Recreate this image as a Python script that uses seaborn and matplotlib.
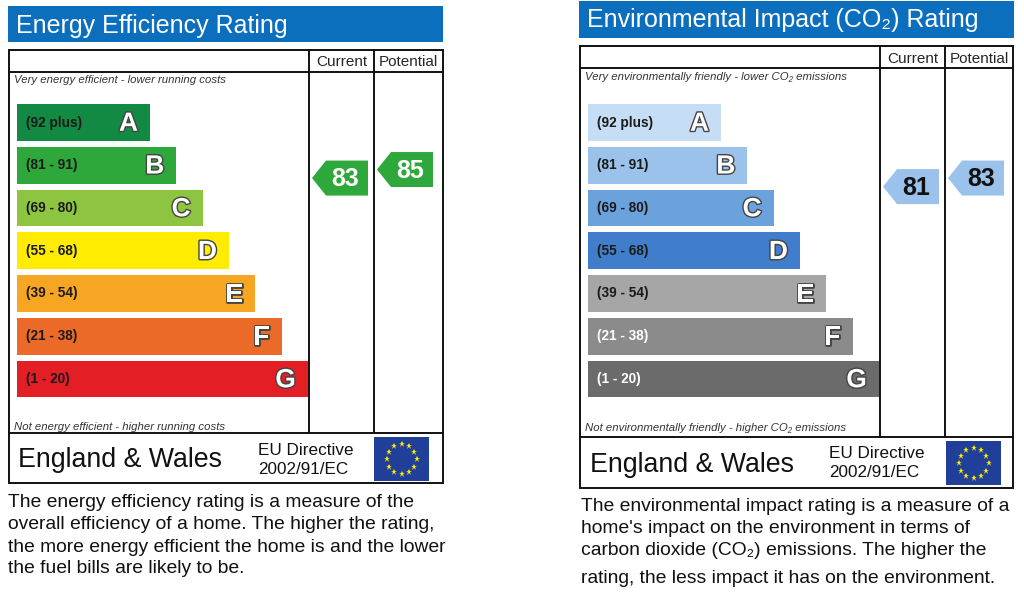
import numpy as np
import matplotlib
matplotlib.use('Agg')
import matplotlib.pyplot as plt
import matplotlib.patheffects as pe
from matplotlib.patches import Rectangle, Polygon
import seaborn as sns

# rating bands (shared by both charts)
bands = ['A', 'B', 'C', 'D', 'E', 'F', 'G']
band_ranges = ['(92 plus)', '(81 - 91)', '(69 - 80)', '(55 - 68)', '(39 - 54)', '(21 - 38)', '(1 - 20)']
band_lo = [92, 81, 69, 55, 39, 21, 1]
band_hi = [100, 91, 80, 68, 54, 38, 20]

# energy efficiency chart
ee_title = 'Energy Efficiency Rating'
ee_top_note = 'Very energy efficient - lower running costs'
ee_bottom_note = 'Not energy efficient - higher running costs'
ee_current = 83
ee_potential = 85
ee_colors = ['#128a43', '#2ea83a', '#8dc540', '#ffec00', '#f6a623', '#ec6a27', '#e31e25']
ee_range_colors = ['#1a1a1a'] * 7
ee_para = ['The energy efficiency rating is a measure of the',
           'overall efficiency of a home. The higher the rating,',
           'the more energy efficient the home is and the lower',
           'the fuel bills are likely to be.']

# environmental impact chart
ei_title = 'Environmental Impact (CO\u2082) Rating'
ei_top_note = 'Very environmentally friendly - lower CO\u2082 emissions'
ei_bottom_note = 'Not environmentally friendly - higher CO\u2082 emissions'
ei_current = 81
ei_potential = 83
ei_colors = ['#c6def5', '#9ac2ea', '#6ca2dc', '#407dca', '#a6a6a6', '#8b8b8b', '#6b6b6b']
ei_range_colors = ['#1a1a1a'] * 5 + ['#ffffff'] * 2
ei_para = ['The environmental impact rating is a measure of a',
           "home's impact on the environment in terms of",
           'carbon dioxide (CO\u2082) emissions. The higher the',
           'rating, the less impact it has on the environment.']

sns.set_theme(style='white')
plt.rcParams['font.family'] = ['Liberation Sans', 'DejaVu Sans']

W, H = 1024, 595
fig = plt.figure(figsize=(W / 100, H / 100), dpi=100)
fig.patch.set_facecolor('white')
ax = fig.add_axes([0, 0, 1, 1])
ax.set_xlim(0, W)
ax.set_ylim(H, 0)
ax.axis('off')


def px_axes(x0, y0, x1, y1):
    return fig.add_axes([x0 / W, 1 - y1 / H, (x1 - x0) / W, (y1 - y0) / H])


ROW0, PITCH = 122.5, 42.75
BAR_SPAN = 292


def band_of(r):
    for i, (lo, hi) in enumerate(zip(band_lo, band_hi)):
        if lo <= r <= hi:
            return i
    return len(bands) - 1


def rating_y(r):
    # vertical position of a rating on the band scale
    i = band_of(r)
    lo, hi = band_lo[i], band_hi[i]
    cy = ROW0 + PITCH * i
    return cy - PITCH / 2 + (hi - r) / (hi - lo) * PITCH


def arrow(x_tip, rating, color, txt_color):
    cy = rating_y(rating)
    h, tip, length = 35, 14, 56
    pts = [(x_tip, cy), (x_tip + tip, cy - h / 2), (x_tip + length, cy - h / 2),
           (x_tip + length, cy + h / 2), (x_tip + tip, cy + h / 2)]
    ax.add_patch(Polygon(pts, closed=True, facecolor=color, edgecolor='none'))
    ax.text(x_tip + tip + (length - tip) / 2 - 2, cy + 1, str(rating), ha='center', va='center',
            fontsize=18, fontweight='bold', color=txt_color)


def eu_flag(x0, y0, x1, y1):
    ax.add_patch(Rectangle((x0, y0), x1 - x0, y1 - y0, facecolor='#1f3f99', edgecolor='none'))
    cx, cy = (x0 + x1) / 2, (y0 + y1) / 2
    ang = np.linspace(0, 2 * np.pi, 13)[:-1]
    ax.plot(cx + 15 * np.cos(ang), cy + 15 * np.sin(ang), ls='none', marker='*',
            markersize=5, color='#ffec00', markeredgewidth=0)


def panel(p, title, top_note, bottom_note, colors, range_colors, current, potential,
          arrow_txt, para):
    tx0, ty0, tx1, ty1 = p['title_box']
    ax.add_patch(Rectangle((tx0, ty0), tx1 - tx0, ty1 - ty0, facecolor='#0b6fbd', edgecolor='none'))
    ax.text(tx0 + 8, p['title_base'], title, color='white', fontsize=18, va='baseline')

    bx0, by0, bx1, by1 = p['box']
    c1, c2 = p['cols']
    lw = 1.4
    ax.add_patch(Rectangle((bx0, by0), bx1 - bx0, by1 - by0, fill=False, edgecolor='#111', lw=lw))
    ax.plot([bx0, bx1], [p['head_y'], p['head_y']], color='#111', lw=lw)
    ax.plot([bx0, bx1], [p['foot_y'], p['foot_y']], color='#111', lw=lw)
    for c in (c1, c2):
        ax.plot([c, c], [by0, p['foot_y']], color='#111', lw=lw)
    ax.text((c1 + c2) / 2, p['head_base'], 'Current', ha='center', va='baseline', fontsize=11)
    ax.text((c2 + bx1) / 2, p['head_base'], 'Potential', ha='center', va='baseline', fontsize=11)
    ax.text(bx0 + 5, p['top_base'], top_note, fontsize=8.2, style='italic', color='#333', va='baseline')
    ax.text(bx0 + 5, p['bot_base'], bottom_note, fontsize=8.2, style='italic', color='#333', va='baseline')

    # rating bands
    bl = p['bar_left']
    bax = px_axes(bl, ROW0 - PITCH / 2, bl + BAR_SPAN, ROW0 + PITCH * 6.5)
    lengths = 133 + 26.3 * np.arange(len(bands))
    sns.barplot(x=lengths, y=bands, hue=bands, palette=colors, orient='h', width=0.854,
                saturation=1, legend=False, linewidth=0, ax=bax)
    bax.set_xlim(0, BAR_SPAN)
    bax.set_ylim(6.5, -0.5)
    bax.axis('off')
    bax.patch.set_alpha(0)
    for i, (b, rng, ln) in enumerate(zip(bands, band_ranges, lengths)):
        bax.text(9, i, rng, va='center', ha='left', fontsize=9.8, fontweight='bold', color=range_colors[i])
        bax.text(ln - 12, i + 0.03, b, va='center', ha='right', fontsize=19, fontweight='bold', color='white',
                 path_effects=[pe.Stroke(linewidth=2, foreground='#444'), pe.Normal()])

    arrow(c1 + 3, current, colors[band_of(current)], arrow_txt)
    arrow(c2 + 3, potential, colors[band_of(potential)], arrow_txt)

    ax.text(p['ew_x'], p['ew_base'], 'England & Wales', fontsize=19.3, va='baseline', color='#111')
    ax.text(p['eu_x'], p['eu_base'][0], 'EU Directive', fontsize=12.3, va='baseline', color='#111')
    ax.text(p['eu_x'], p['eu_base'][1], '2002/91/EC', fontsize=12.3, va='baseline', color='#111')
    eu_flag(*p['flag'])

    for line, yb in zip(para, p['para_base']):
        ax.text(p['para_x'], yb, line, fontsize=13.9, va='baseline', color='#111')


left = dict(title_box=(8, 6, 443, 42), title_base=33, box=(8.5, 50, 442.5, 483), head_y=72,
            foot_y=433, cols=(309, 374), head_base=66, top_base=83, bot_base=430, bar_left=17,
            ew_x=18, ew_base=467, eu_x=258, eu_base=(455, 474), flag=(374, 437, 429, 481),
            para_x=8, para_base=(507, 529, 552, 573))
right = dict(title_box=(579, 1, 1014, 38), title_base=27, box=(580, 46, 1013, 488), head_y=68,
             foot_y=437, cols=(880, 945), head_base=63, top_base=80, bot_base=431, bar_left=588,
             ew_x=590, ew_base=472, eu_x=829, eu_base=(458, 477), flag=(946, 441, 1001, 485),
             para_x=581, para_base=(511, 533, 555, 583))

panel(left, ee_title, ee_top_note, ee_bottom_note, ee_colors, ee_range_colors,
      ee_current, ee_potential, 'white', ee_para)
panel(right, ei_title, ei_top_note, ei_bottom_note, ei_colors, ei_range_colors,
      ei_current, ei_potential, '#111', ei_para)

fig.savefig('out.png', dpi=100, facecolor='white')
